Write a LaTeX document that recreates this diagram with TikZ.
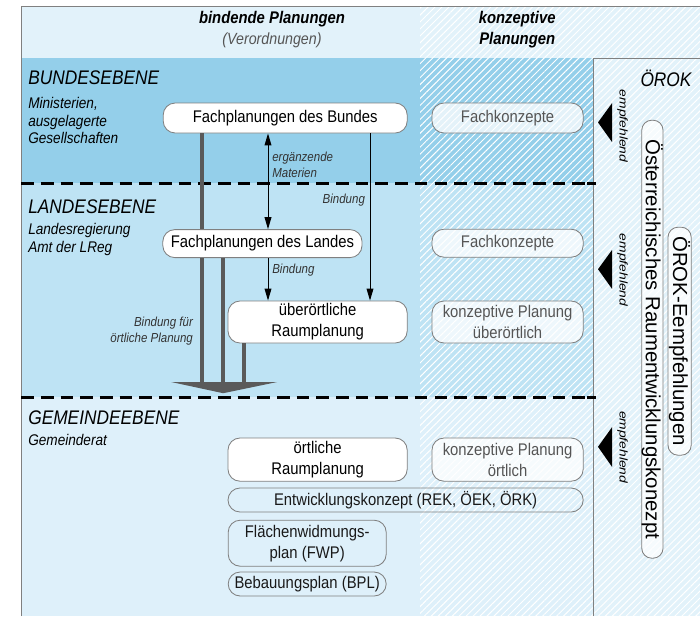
\documentclass[tikz,border=0pt]{standalone}
\usepackage{fontspec}
\usepackage{graphicx}
\setmainfont{Liberation Sans}[FakeStretch=0.88]
\newfontfamily\breitsans{Liberation Sans}
\usetikzlibrary{arrows.meta,patterns.meta}

\definecolor{kopfblau}{HTML}{E2F2FA}
\definecolor{bundblau}{HTML}{94CFEA}
\definecolor{landblau}{HTML}{BEE3F4}
\definecolor{gemblau}{HTML}{DEF0FA}
\definecolor{rahmengrau}{HTML}{808080}
\definecolor{pfeilgrau}{HTML}{5A5A5A}
\definecolor{textgrau}{HTML}{555555}

\tikzset{
  plan/.style={draw=rahmengrau, line width=0.6pt, rounded corners=0.3cm, fill=white,
    text=black, align=center, inner sep=0pt, minimum height=0.75cm,
    font=\fontsize{12}{15}\selectfont},
  konzept/.style={plan, fill opacity=0.75, text opacity=1, text=textgrau, minimum width=3.78cm},
  gemplan/.style={plan, fill=none, text=black!90},
  vertikal/.style={draw=rahmengrau, line width=0.6pt, rounded corners=0.25cm, fill=white,
    fill opacity=0.7, text opacity=1, rotate=-90, inner sep=0pt,
    font=\breitsans\fontsize{14.5}{16}\selectfont},
  ebene/.style={anchor=west, inner sep=0pt, font=\itshape\fontsize{14}{16}\selectfont},
  organ/.style={anchor=north west, inner sep=0pt, align=left, font=\itshape\fontsize{11}{12.5}\selectfont},
  vermerk/.style={inner sep=0pt, text=black!80, font=\itshape\fontsize{9.3}{11.4}\selectfont},
  empf/.style={rotate=-90, inner sep=0pt, font=\itshape\fontsize{8}{9}\selectfont},
  kopf/.style={align=center, inner sep=0pt, font=\fontsize{12}{15}\selectfont},
  trenner/.style={line width=2pt, dash pattern=on 9pt off 5pt},
  verbindung/.style={line width=0.7pt},
  bindung/.style={verbindung, -{Triangle[length=3mm,width=1.7mm]}},
  ergaenzung/.style={verbindung, {Triangle[length=3mm,width=1.7mm]}-{Triangle[length=3mm,width=1.7mm]}},
  dick/.style={line width=2.8pt, pfeilgrau},
}

\begin{document}
\begin{tikzpicture}
\useasboundingbox (0,0) rectangle (17.50,-15.40);

% Ebenen
\fill[kopfblau] (0.53,-0.15) rectangle (17.50,-1.45);
\fill[bundblau] (0.53,-1.45) rectangle (14.83,-4.58);
\fill[landblau] (0.53,-4.58) rectangle (14.83,-9.93);
\fill[gemblau] (0.53,-9.93) rectangle (14.83,-15.40);
\fill[kopfblau] (14.83,-1.45) rectangle (17.50,-15.40);
\fill[pattern={Lines[angle=45,distance=3.5pt,line width=0.7pt]}, pattern color=white, fill opacity=0.45]
    (10.50,-0.15) rectangle (17.50,-15.40);
\draw[rahmengrau, line width=0.6pt] (0.53,-15.40) -- (0.53,-0.15) -- (17.50,-0.15);
\draw[rahmengrau, line width=0.6pt] (14.83,-15.40) -- (14.83,-1.45) -- (17.50,-1.45);
\draw[trenner] (0.53,-4.58) -- (14.70,-4.58);
\draw[trenner] (0.53,-9.93) -- (14.70,-9.93);
\draw[line width=2pt] (14.68,-4.58) -- (14.90,-4.58);
\draw[line width=2pt] (14.68,-9.93) -- (14.90,-9.93);

% Kopfzeile
\node[kopf] (bindend) at (6.80,-0.75) {{\bfseries\itshape bindende Planungen}\\{\itshape\fontsize{11.5}{15}\selectfont\color{textgrau}(Verordnungen)}};
\node[kopf] (konzeptiv) at (12.93,-0.75) {\bfseries\itshape konzeptive\\\bfseries\itshape Planungen};

% Ebenen und Organe
\node[ebene] (bund) at (0.70,-1.95) {BUNDESEBENE};
\node[organ] (bundOrgan) at (0.70,-2.43) {Ministerien,\\ausgelagerte\\Gesellschaften};
\node[ebene] (land) at (0.70,-5.18) {LANDESEBENE};
\node[organ] (landOrgan) at (0.70,-5.58) {Landesregierung\\Amt der LReg};
\node[ebene] (gemeinde) at (0.70,-10.45) {GEMEINDEEBENE};
\node[organ] (gemOrgan) at (0.70,-10.85) {Gemeinderat};
\node[ebene, anchor=center] (oerok) at (16.65,-1.95) {ÖROK};

% Planungen
\node[plan, minimum width=6.10cm] (fpBund) at (7.13,-2.95) {Fachplanungen des Bundes};
\node[konzept] (fkBund) at (12.69,-2.95) {Fachkonzepte};
\node[plan, minimum width=4.98cm, minimum height=0.70cm] (fpLand) at (6.56,-6.09) {Fachplanungen des Landes};
\node[konzept, minimum height=0.70cm] (fkLand) at (12.69,-6.08) {Fachkonzepte};
\node[plan, minimum width=4.48cm, minimum height=1.05cm] (uRaum) at (7.94,-8.05) {überörtliche\\Raumplanung};
\node[konzept, minimum height=1.05cm] (kUeber) at (12.69,-8.05) {konzeptive Planung\\überörtlich};
\node[plan, minimum width=4.48cm, minimum height=1.08cm] (oRaum) at (7.94,-11.49) {örtliche\\Raumplanung};
\node[konzept, minimum height=1.08cm] (kOert) at (12.69,-11.49) {konzeptive Planung\\örtlich};
\node[gemplan, minimum width=8.88cm, minimum height=0.60cm] (entw) at (10.14,-12.50) {Entwicklungskonzept (REK, ÖEK, ÖRK)};
\node[gemplan, minimum width=3.95cm, minimum height=1.15cm] (fwp) at (7.68,-13.58) {Flächenwidmungs-\\plan (FWP)};
\node[gemplan, minimum width=3.95cm, minimum height=0.60cm] (bpl) at (7.68,-14.60) {Bebauungsplan (BPL)};

% ÖROK
\node[vertikal, minimum width=10.95cm, minimum height=0.53cm] (oerk) at (16.31,-8.48) {Österreichisches Raumentwicklungskonezpt};
\node[vertikal, minimum width=5.70cm, minimum height=0.58cm] (oerokEmpf) at (16.99,-8.53) {ÖROK-Eempfehlungen};
\fill (14.95,-3.06) -- (15.30,-2.58) -- (15.30,-3.55) -- cycle;
\fill (14.95,-6.73) -- (15.30,-6.25) -- (15.30,-7.22) -- cycle;
\fill (14.95,-11.17) -- (15.30,-10.68) -- (15.30,-11.67) -- cycle;
\node[empf] (empfBund) at (15.56,-3.15) {\scalebox{1.4}[1]{empfehlend}};
\node[empf] (empfLand) at (15.56,-6.75) {\scalebox{1.4}[1]{empfehlend}};
\node[empf] (empfGem) at (15.56,-11.18) {\scalebox{1.4}[1]{empfehlend}};

% Bindungen
\coordinate (xErg) at (6.70,0);
\coordinate (xBind) at (9.25,0);
\coordinate (dick1) at (5.05,-9.55);
\coordinate (dick2) at (5.58,-9.55);
\coordinate (dick3) at (6.10,-9.55);
\draw[ergaenzung] (fpBund.south -| xErg) -- (fpLand.north -| xErg);
\draw[bindung] (fpBund.south -| xBind) -- (uRaum.north -| xBind);
\draw[bindung] (fpLand.south -| xErg) -- (uRaum.north -| xErg);
\draw[dick] (fpBund.south -| dick1) -- (fpLand.north -| dick1);
\draw[dick] (fpLand.south -| dick1) -- (dick1);
\draw[dick] (fpLand.south -| dick2) -- (dick2);
\draw[dick] (uRaum.south -| dick3) -- (dick3);
\fill[pfeilgrau] (4.28,-9.55) -- (6.93,-9.55) -- (5.58,-9.83) -- cycle;
\node[vermerk, anchor=west, align=left] (ergLabel) at (6.80,-4.13) {ergänzende\\Materien};
\node[vermerk, anchor=east] (bindLabel) at (9.13,-5.00) {Bindung};
\node[vermerk, anchor=west] (bindLandLabel) at (6.80,-6.75) {Bindung};
\node[vermerk, anchor=east, align=right] (bindOertLabel) at (4.83,-8.28) {Bindung für\\örtliche Planung};

\end{tikzpicture}
\end{document}
